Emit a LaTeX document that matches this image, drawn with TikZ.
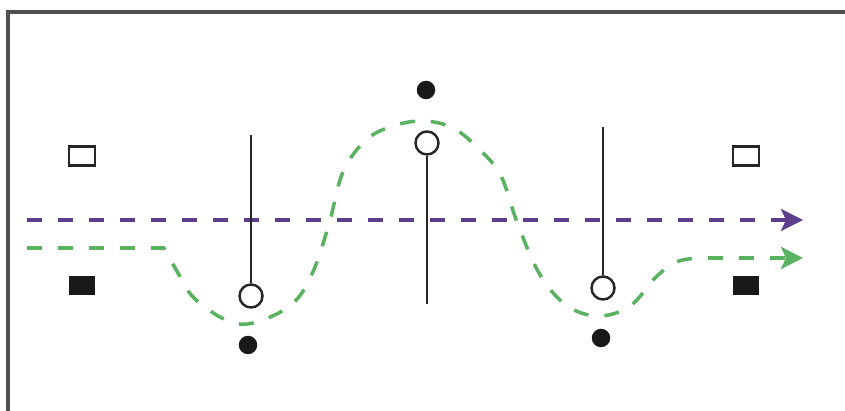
\documentclass[tikz,border=0pt]{standalone}
\usetikzlibrary{arrows.meta}
\definecolor{pur}{RGB}{92,62,140}
\definecolor{grn}{RGB}{88,178,96}
\definecolor{frm}{RGB}{80,80,80}
\tikzset{
  openbox/.style={draw=black!85,fill=white,line width=1.5pt,minimum width=0.52cm,minimum height=0.38cm,inner sep=0pt},
  fullbox/.style={fill=black!90,minimum width=0.52cm,minimum height=0.38cm,inner sep=0pt},
  ring/.style={circle,draw=black!85,fill=white,line width=1.4pt,minimum size=0.46cm,inner sep=0pt},
  dot/.style={circle,fill=black!90,minimum size=0.37cm,inner sep=0pt},
  stick/.style={draw=black!85,line width=1.4pt},
  flow/.style={line width=2pt,dash pattern=on 0.3cm off 0.32cm,-{Stealth[length=0.44cm,width=0.44cm,inset=0.1cm]}},
}
\begin{document}
\begin{tikzpicture}[x=0.02cm,y=-0.02cm]
\useasboundingbox (0,0) rectangle (845,411);
\fill[white] (0,0) rectangle (845,411);
% frame (top and left edges visible)
\draw[frm,line width=2pt] (845,12) -- (8,12) -- (8,411);
% squares
\node[openbox] (ol) at (82,156) {};
\node[openbox] (or) at (746,156) {};
\node[fullbox] (fl) at (82,286) {};
\node[fullbox] (fr) at (746,286) {};
% purple flow
\coordinate (ps) at (27,220);
\coordinate (pe) at (803,220);
\draw[flow,pur] (ps) -- (pe);
% green flow
\coordinate (gs) at (27,248);
\coordinate (ge) at (803,258);
\draw[flow,grn] (gs) -- (164,248) -- plot[smooth,tension=0.6] coordinates {(164,248) (178,273) (194,298) (226,320) (253,323) (291,305) (312,274) (329,224) (343,172) (366,140) (393,126) (423,121) (453,128) (480,150) (501,176) (517,222) (539,273) (566,305) (598,316) (630,306) (657,276) (679,261) (705,258)} -- (ge);
% sticks and rings
\node[ring] (r1) at (251,296) {};
\node[ring] (r2) at (427,143) {};
\node[ring] (r3) at (603,288) {};
\coordinate (t1) at (251,135);
\coordinate (t2) at (427,304);
\coordinate (t3) at (603,127);
\draw[stick] (r1.north) -- (t1);
\draw[stick] (r2.south) -- (t2);
\draw[stick] (r3.north) -- (t3);
% dots
\node[dot] (d1) at (248,345) {};
\node[dot] (d2) at (426,90) {};
\node[dot] (d3) at (601,338) {};
\end{tikzpicture}
\end{document}
